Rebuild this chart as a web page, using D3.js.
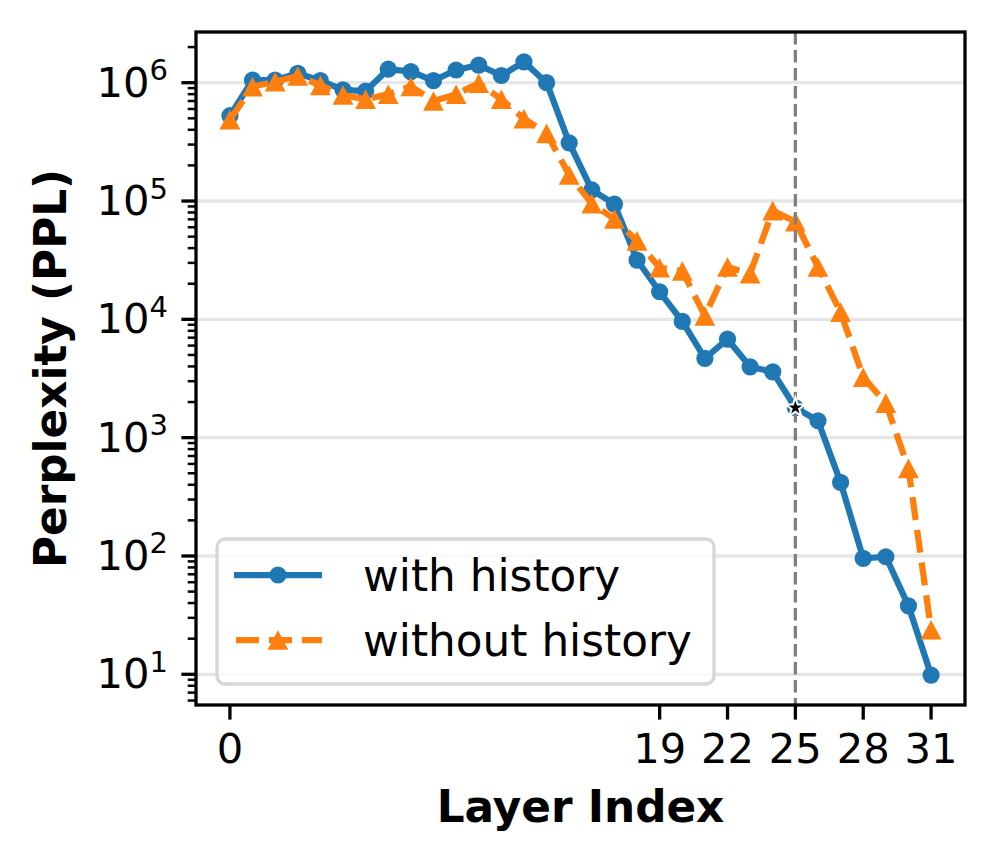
<!DOCTYPE html>
<html><head><meta charset="utf-8">
<script src="https://cdn.jsdelivr.net/npm/d3@7"></script>
<style>body{margin:0;background:#fff;} svg{display:block;font-family:"DejaVu Sans";}</style>
</head><body>
<script>
// ---- data ----
const layers = [0,1,2,3,4,5,6,7,8,9,10,11,12,13,14,15,16,17,18,19,20,21,22,23,24,25,26,27,28,29,30,31];
const withHistory = [5.26e5,1.05e6,1.05e6,1.2e6,1.04e6,8.7e5,8.5e5,1.3e6,1.24e6,1.04e6,1.28e6,1.41e6,1.15e6,1.5e6,1.0e6,3.1e5,
  1.24e5,9.4e4,3.17e4,1.71e4,9.6e3,4.68e3,6.8e3,3.97e3,3.6e3,1.79e3,1.39e3,419,95.5,98.5,37.9,9.85];
const withoutHistory = [4.87e5,9.25e5,1.02e6,1.14e6,9.5e5,7.87e5,7.24e5,7.98e5,9.3e5,7.0e5,7.98e5,9.9e5,7.24e5,4.97e5,3.73e5,1.66e5,
  9.5e4,7.05e4,4.6e4,2.73e4,2.56e4,1.07e4,2.77e4,2.43e4,8.3e4,6.68e4,2.77e4,1.15e4,3.24e3,1.96e3,550,23.8];
const seriesNames = ["with history","without history"];
const xTicks = [0,19,22,25,28,31];
const yTickExps = [1,2,3,4,5,6];
const markedLayer = 25;
const xLabel = "Layer Index";
const yLabel = "Perplexity (PPL)";

// ---- layout ----
const W = 998, H = 865;
const L = 196, R = 965, T = 32, B = 705;
const blue = "#1f77b4", orange = "#ff7f0e";

const svg = d3.select("body").append("svg").attr("width", W).attr("height", H);
const x = d3.scaleLinear().domain([-1.5, 32.5]).range([L, R]);
const y = d3.scaleLog().domain([Math.pow(10,0.7405), Math.pow(10,6.4285)]).range([B, T]);

// grid
svg.append("g").selectAll("line").data(yTickExps).join("line")
  .attr("x1", L).attr("x2", R)
  .attr("y1", d => y(Math.pow(10,d))).attr("y2", d => y(Math.pow(10,d)))
  .attr("stroke", "#e6e6e6").attr("stroke-width", 3.3);

// lines
const line = d3.line().x((d,i) => x(layers[i])).y(d => y(d));
svg.append("path").datum(withHistory).attr("d", line)
  .attr("fill","none").attr("stroke", blue).attr("stroke-width", 6.25).attr("stroke-linejoin","round");
svg.append("g").selectAll("circle").data(withHistory).join("circle")
  .attr("cx", (d,i) => x(layers[i])).attr("cy", d => y(d)).attr("r", 8.6).attr("fill", blue);

svg.append("path").datum(withoutHistory).attr("d", line)
  .attr("fill","none").attr("stroke", orange).attr("stroke-width", 6.25)
  .attr("stroke-dasharray","23,10");
const tri = "M0,-9.8L10.4,9.8L-10.4,9.8Z";
svg.append("g").selectAll("path").data(withoutHistory).join("path")
  .attr("transform", (d,i) => `translate(${x(layers[i])},${y(d)})`)
  .attr("d", tri).attr("fill", orange);

// vertical dashed line
svg.append("line").attr("x1", x(markedLayer)).attr("x2", x(markedLayer)).attr("y1", T).attr("y2", B)
  .attr("stroke", "#808080").attr("stroke-width", 3.3).attr("stroke-dasharray","12.5,5.5");

// star
const mi = layers.indexOf(markedLayer);
svg.append("path").attr("transform", `translate(${x(markedLayer)},${y(withHistory[mi])})`)
  .attr("d", d3.symbol(d3.symbolStar, 120)()).attr("fill","#000").attr("stroke","#fff").attr("stroke-width",2);

// spines
svg.append("rect").attr("x", L).attr("y", T).attr("width", R-L).attr("height", B-T)
  .attr("fill","none").attr("stroke","#000").attr("stroke-width",3.3);

// x ticks
const gx = svg.append("g");
xTicks.forEach(t => {
  gx.append("line").attr("x1", x(t)).attr("x2", x(t)).attr("y1", B).attr("y2", B+14.6)
    .attr("stroke","#000").attr("stroke-width",3.3);
  gx.append("text").attr("x", x(t)).attr("y", 763).attr("text-anchor","middle")
    .attr("font-size", 41.67).text(t);
});
// y ticks
const gy = svg.append("g");
const [ymin, ymax] = y.domain();
for (let e = 0; e <= 7; e++) {
  for (let m = 2; m <= 9; m++) {
    const v = m * Math.pow(10, e);
    if (v < ymin || v > ymax) continue;
    gy.append("line").attr("x1", L-8.3).attr("x2", L).attr("y1", y(v)).attr("y2", y(v))
      .attr("stroke","#000").attr("stroke-width",2.5);
  }
}
yTickExps.forEach(e => {
  const yy = y(Math.pow(10,e));
  gy.append("line").attr("x1", L-14.6).attr("x2", L).attr("y1", yy).attr("y2", yy)
    .attr("stroke","#000").attr("stroke-width",3.3);
  const t = gy.append("text").attr("x", 168).attr("y", yy+14).attr("text-anchor","end").attr("font-size",41.67);
  t.append("tspan").text("10");
  t.append("tspan").attr("font-size", 29).attr("dy", -16.5).text(e);
});

// axis labels
svg.append("text").attr("x", (L+R)/2).attr("y", 822).attr("text-anchor","middle")
  .attr("font-size",43.75).attr("font-weight","bold").text(xLabel);
svg.append("text").attr("transform", `translate(66,${(T+B)/2}) rotate(-90)`).attr("text-anchor","middle")
  .attr("font-size",43.75).attr("font-weight","bold").text(yLabel);

// legend
const lg = svg.append("g");
lg.append("rect").attr("x",217).attr("y",539).attr("width",497).attr("height",145).attr("rx",8)
  .attr("fill","#fff").attr("fill-opacity",0.8).attr("stroke","#d6d6d6").attr("stroke-width",3.3);
const rows = [575, 640];
lg.append("line").attr("x1",234).attr("x2",322).attr("y1",rows[0]).attr("y2",rows[0])
  .attr("stroke",blue).attr("stroke-width",6.25);
lg.append("circle").attr("cx",278).attr("cy",rows[0]).attr("r",8.6).attr("fill",blue);
lg.append("line").attr("x1",236).attr("x2",322).attr("y1",rows[1]).attr("y2",rows[1])
  .attr("stroke",orange).attr("stroke-width",6.25).attr("stroke-dasharray","23,10");
lg.append("path").attr("transform",`translate(278,${rows[1]})`).attr("d",tri).attr("fill",orange);
seriesNames.forEach((n,i) => {
  lg.append("text").attr("x",363).attr("y",rows[i]+16).attr("font-size",43.75).text(n);
});
</script>
</body></html>
